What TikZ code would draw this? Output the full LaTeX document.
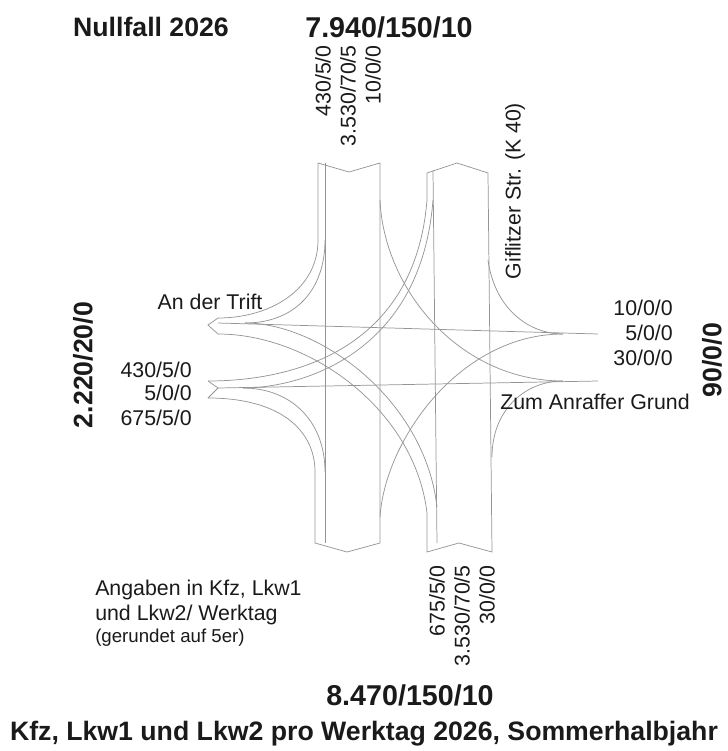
\documentclass[tikz,border=0pt]{standalone}
\usepackage{fontspec}
\setmainfont{Liberation Sans}
\usetikzlibrary{positioning}
\definecolor{lanegray}{HTML}{959595}
\definecolor{txtblack}{HTML}{1A1A1A}
\tikzset{
  lane/.style={draw=lanegray, line width=0.55pt},
  count/.style={text=txtblack, font=\fontsize{16}{19}\selectfont, inner sep=0pt},
  upcount/.style={count, rotate=90, anchor=east},
  total/.style={text=txtblack, font=\fontsize{21.5}{25}\selectfont\bfseries, inner sep=0pt},
  heading/.style={text=txtblack, font=\fontsize{20}{24}\selectfont\bfseries, inner sep=0pt},
  note/.style={count, anchor=west},
}

\begin{document}
\begin{tikzpicture}[x=0.75pt, y=-0.75pt]
\useasboundingbox (0,0) rectangle (728,751);

% North arm
\draw[lane] (318,240) -- (318,163) -- (349,172) -- (380,163) -- (380,543);
\draw[lane] (325,163) -- (325,543);
\draw[lane] (427,200) -- (427,173) -- (457,163) -- (488,173) -- (492,552) -- (459,543) -- (427,552) -- (427,513);
\draw[lane] (433,170) -- (437,543);

% South west arm
\draw[lane] (315,472) -- (315,543) -- (347,552) -- (380,543);

% Left heads
\draw[lane] (218,318) -- (208,325) -- (218,334);
\draw[lane] (208,398) -- (218,388) -- (208,381);

% Through lines
\draw[lane] (218,323) -- (598,334);
\draw[lane] (218,388) -- (598,381);

% Turning curves
\draw[lane] (318,240) .. controls (318,290) and (270,318) .. (218,318);
\draw[lane] (325,240) .. controls (325,290) and (295,323) .. (245,323);
\draw[lane] (380,200) .. controls (384,290) and (460,381) .. (563,381);
\draw[lane] (488,260) .. controls (495,310) and (530,334) .. (563,334);
\draw[lane] (380,517) .. controls (385,440) and (460,334) .. (563,334);
\draw[lane] (492,457) .. controls (492,410) and (525,381) .. (563,381);
\draw[lane] (427,200) .. controls (415,350) and (293,381) .. (208,381);
\draw[lane] (433,200) .. controls (421,355) and (300,388) .. (243,388);
\draw[lane] (315,472) .. controls (315,430) and (280,398) .. (208,398);
\draw[lane] (325,472) .. controls (325,420) and (290,388) .. (243,388);
\draw[lane] (437,507) .. controls (425,400) and (320,323) .. (245,323);
\draw[lane] (427,513) .. controls (415,410) and (310,334) .. (218,334);

% Totals
\node[heading] (nullfall) at (151,27) {Nullfall 2026};
\node[total] (totalnorth) at (389,27) {7.940/150/10};
\node[total] (totalsouth) at (410,695) {8.470/150/10};
\node[heading, rotate=90] (totalwest) at (83,365) {2.220/20/0};
\node[heading, rotate=90] (totaleast) at (712,360) {90/0/0};

% North counts
\node[upcount] (northa) at (323,45) {430/5/0};
\node[upcount] (northb) at (348,45) {3.530/70/5};
\node[upcount] (northc) at (373,45) {10/0/0};

% South counts
\node[upcount] (southa) at (437,565) {675/5/0};
\node[upcount] (southb) at (462,565) {3.530/70/5};
\node[upcount] (southc) at (487,565) {30/0/0};

% West counts
\node[count, anchor=east] (westa) at (192,370) {430/5/0};
\node[count, anchor=east] (westb) at (192,393) {5/0/0};
\node[count, anchor=east] (westc) at (192,418) {675/5/0};

% East counts
\node[count, anchor=east] (easta) at (673,308) {10/0/0};
\node[count, anchor=east] (eastb) at (673,333) {5/0/0};
\node[count, anchor=east] (eastc) at (673,358) {30/0/0};

% Street names
\node[count, rotate=90] (giflitzer) at (515,191) {Giflitzer Str. (K 40)};
\node[count] (trift) at (210,302) {An der Trift};
\node[count] (anraffer) at (595,402) {Zum Anraffer Grund};

% Legend
\node[note] (notea) at (95,590) {Angaben in Kfz, Lkw1};
\node[note] (noteb) at (95,615) {und Lkw2/ Werktag};
\node[note, font=\fontsize{14}{17}\selectfont] (notec) at (95,638) {(gerundet auf 5er)};

% Caption
\node[heading] (caption) at (364,734) {Kfz, Lkw1 und Lkw2 pro Werktag 2026, Sommerhalbjahr};

\end{tikzpicture}
\end{document}
